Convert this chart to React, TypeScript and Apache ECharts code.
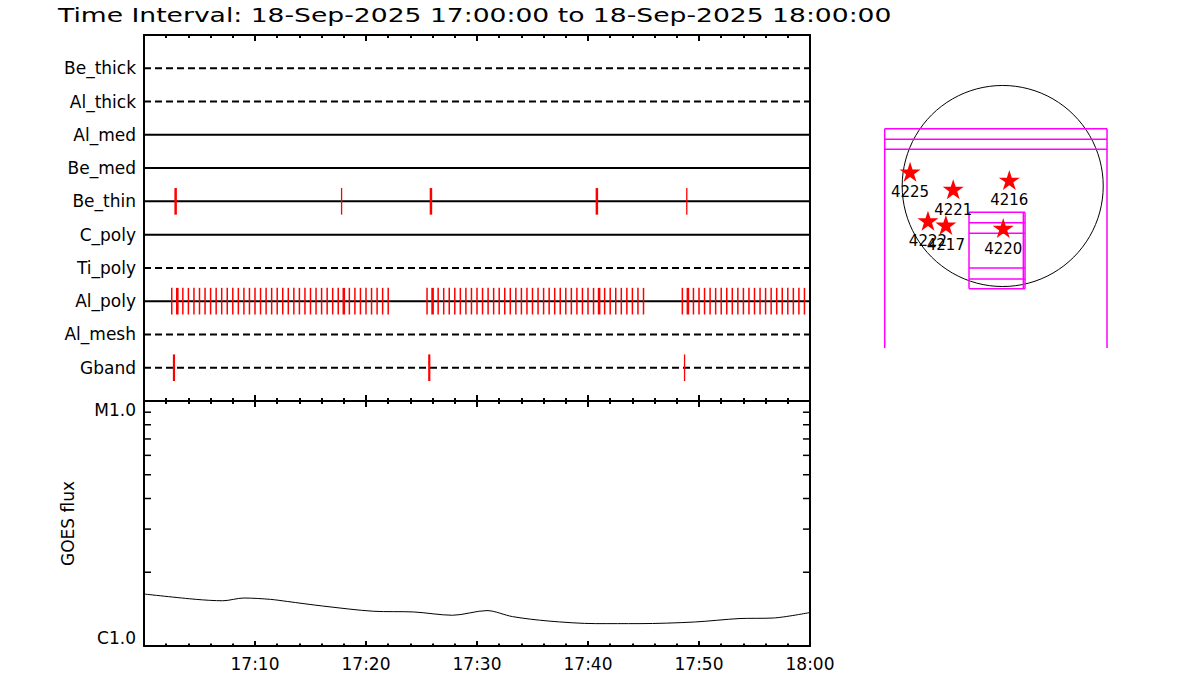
import React, { useEffect, useRef } from 'react';
import * as echarts from 'echarts';

// ---------- data ----------
const TITLE = 'Time Interval: 18-Sep-2025 17:00:00 to 18-Sep-2025 18:00:00';
const START_HOUR = 17;

const rowNames = ['Be_thick', 'Al_thick', 'Al_med', 'Be_med', 'Be_thin', 'C_poly', 'Ti_poly', 'Al_poly', 'Al_mesh', 'Gband'];
const rowDashed = [true, true, false, false, false, false, true, false, true, true];

// event times in minutes after 17:00
const beThinEvents = [2.85, 17.8, 25.85, 40.8, 48.9];
const beThinThick = [2.85, 25.85, 40.8];

const alPolyEvents = [
  2.5, 3.0, 3.5, 4.0, 4.5, 5.0, 5.5, 6.0, 6.5, 7.0, 7.5, 8.0, 8.5, 9.0, 9.5, 10.0, 10.5, 11.0, 11.5, 12.0,
  12.5, 13.0, 13.5, 14.0, 14.5, 15.0, 15.5, 16.0, 16.5, 17.0, 17.5, 18.0, 18.5, 19.0, 19.5, 20.0, 20.5, 21.0, 21.5, 22.0,
  25.5, 26.0, 26.5, 27.0, 27.5, 28.0, 28.5, 29.0, 29.5, 30.0, 30.5, 31.0, 31.5, 32.0, 32.5, 33.0, 33.5, 34.0, 34.5, 35.0,
  35.5, 36.0, 36.5, 37.0, 37.5, 38.0, 38.5, 39.0, 39.5, 40.0, 40.5, 41.0, 41.5, 42.0, 42.5, 43.0, 43.5, 44.0, 44.5, 45.0,
  48.5, 49.0, 49.5, 50.0, 50.5, 51.0, 51.5, 52.0, 52.5, 53.0, 53.5, 54.0, 54.5, 55.0, 55.5, 56.0, 56.5, 57.0, 57.5, 58.0,
  58.5, 59.0, 59.5,
];
const alPolyThick = [3.0, 18.0, 26.0, 41.0, 49.0];

const gbandEvents = [2.7, 25.7, 48.7];
const gbandThick = [2.7, 25.7];

// GOES 1-8 A flux (W/m^2)
const goesTimes = [0, 4.7, 7.1, 9.0, 11.4, 12.9, 16.1, 20.7, 24.3, 27.8, 30.9, 33.2, 36.4, 40.7, 44.6, 49.6, 53.6, 56.7, 60];
const goesFlux = [
  1.63e-6, 1.55e-6, 1.53e-6, 1.57e-6, 1.55e-6, 1.52e-6, 1.456e-6, 1.386e-6, 1.377e-6, 1.335e-6,
  1.395e-6, 1.318e-6, 1.265e-6, 1.234e-6, 1.234e-6, 1.253e-6, 1.294e-6, 1.301e-6, 1.37e-6,
];
const goesMinorTicks = [2e-6, 3e-6, 4e-6, 5e-6, 6e-6, 7e-6, 8e-6, 9e-6];
const goesClassLabels: Record<string, string> = { '-6': 'C1.0', '-5': 'M1.0' };

// solar disk panel (arcsec)
const SOLAR_R = 955;
const arNumbers = ['4225', '4221', '4216', '4222', '4217', '4220'];
const arX = [-880, -470, 63, -710, -540, 5];
const arY = [135, -30, 57, -330, -370, -400];
const fovX1 = [-1121, -1121, -1121, -1121, 991, -320, -320, -320, -320, -320, -320, -320, 212, 196];
const fovY1 = [545, 444, 349, 545, 545, -250, -349, -449, -779, -884, -976, -250, -250, -250];
const fovX2 = [991, 991, 991, -1121, 991, 212, 212, 212, 212, 212, 212, -320, 212, 196];
const fovY2 = [545, 444, 349, -1540, -1540, -250, -349, -449, -779, -884, -976, -976, -976, -976];

// ---------- helpers ----------
const FONT = 'DejaVu Sans';
const fmtTime = (v: number) => {
  if (v <= 0) return '';
  const h = START_HOUR + Math.floor(v / 60);
  const m = Math.round(v % 60);
  return `${h}:${m < 10 ? '0' + m : m}`;
};

const timeAxisBase = (gridIndex: number, position: 'top' | 'bottom', majorLen: number, minorLen: number, labels: boolean) => ({
  type: 'value',
  gridIndex,
  position,
  min: 0,
  max: 60,
  interval: 10,
  axisLine: { show: true, onZero: false, lineStyle: { color: '#000', width: 2 } },
  axisTick: { show: true, inside: true, length: majorLen, lineStyle: { color: '#000', width: 2 } },
  minorTick: { show: true, splitNumber: 5, length: minorLen, lineStyle: { color: '#000', width: 2 } },
  splitLine: { show: false },
  minorSplitLine: { show: false },
  axisLabel: labels
    ? { show: true, formatter: fmtTime, color: '#000', fontFamily: FONT, fontSize: 17, margin: 9, showMinLabel: true, showMaxLabel: true }
    : { show: false },
});

export default function App() {
  const ref = useRef<HTMLDivElement>(null);

  useEffect(() => {
    if (!ref.current) return;
    const chart = echarts.init(ref.current, undefined, { renderer: 'svg' });

    const tickItems: number[][] = [];
    beThinEvents.forEach((t) => tickItems.push([t, 5, beThinThick.includes(t) ? 2.5 : 1.3]));
    alPolyEvents.forEach((t) => tickItems.push([t, 8, alPolyThick.includes(t) ? 2.6 : 1.5]));
    gbandEvents.forEach((t) => tickItems.push([t, 10, gbandThick.includes(t) ? 2.2 : 1.3]));

    const rowSeries = rowNames.map((name, i) => ({
      name,
      type: 'line',
      xAxisIndex: 0,
      yAxisIndex: 0,
      data: [[0, i + 1], [60, i + 1]],
      symbol: 'none',
      silent: true,
      z: 2,
      lineStyle: { color: '#000', width: 2, type: rowDashed[i] ? [7, 4] : 'solid' },
    }));

    const option: any = {
      animation: false,
      backgroundColor: '#fff',
      graphic: [
        {
          type: 'text',
          x: 58,
          y: 5,
          scaleX: 1.33,
          style: { text: TITLE, fill: '#000', font: `20px "${FONT}"`, textVerticalAlign: 'top' },
        },
      ],
      grid: [
        { left: 144, top: 35, width: 666, height: 366 },
        { left: 144, top: 401, width: 666, height: 245 },
        { left: 852.7, top: 36, width: 300, height: 320 },
      ],
      xAxis: [
        timeAxisBase(0, 'bottom', 6, 3, false),
        timeAxisBase(0, 'top', 6, 3, false),
        timeAxisBase(1, 'top', 6, 3, false),
        timeAxisBase(1, 'bottom', 5, 2.5, true),
        { type: 'value', gridIndex: 2, min: -1425, max: 1425, show: false },
      ],
      yAxis: [
        {
          type: 'value',
          gridIndex: 0,
          min: 0,
          max: 11,
          interval: 1,
          inverse: true,
          axisLine: { show: true, onZero: false, lineStyle: { color: '#000', width: 2 } },
          axisTick: { show: false },
          splitLine: { show: false },
          axisLabel: {
            formatter: (v: number) => rowNames[v - 1] ?? '',
            color: '#000',
            fontFamily: FONT,
            fontSize: 17,
            margin: 8,
          },
        },
        {
          type: 'value',
          gridIndex: 0,
          position: 'right',
          min: 0,
          max: 11,
          inverse: true,
          axisLine: { show: true, onZero: false, lineStyle: { color: '#000', width: 2 } },
          axisTick: { show: false },
          axisLabel: { show: false },
          splitLine: { show: false },
        },
        {
          type: 'log',
          logBase: 10,
          gridIndex: 1,
          min: 1e-6,
          max: 1e-5,
          axisLine: { show: true, onZero: false, lineStyle: { color: '#000', width: 2 } },
          axisTick: { show: false },
          splitLine: { show: false },
          axisLabel: {
            formatter: (v: number) => goesClassLabels[String(Math.round(Math.log10(v)))] ?? '',
            color: '#000',
            fontFamily: FONT,
            fontSize: 17,
            margin: 8,
            verticalAlignMinLabel: 'bottom',
            verticalAlignMaxLabel: 'top',
          },
          name: 'GOES flux',
          nameLocation: 'middle',
          nameRotate: 90,
          nameGap: 68,
          nameTextStyle: { color: '#000', fontFamily: FONT, fontSize: 17 },
        },
        {
          type: 'log',
          logBase: 10,
          gridIndex: 1,
          position: 'right',
          min: 1e-6,
          max: 1e-5,
          axisLine: { show: true, onZero: false, lineStyle: { color: '#000', width: 2 } },
          axisTick: { show: false },
          axisLabel: { show: false },
          splitLine: { show: false },
        },
        { type: 'value', gridIndex: 2, min: -1615, max: 1425, show: false },
      ],
      series: [
        ...rowSeries,
        {
          type: 'custom',
          name: 'events',
          xAxisIndex: 0,
          yAxisIndex: 0,
          z: 5,
          silent: true,
          data: tickItems,
          renderItem: (_p: any, api: any) => {
            const t = api.value(0);
            const r = api.value(1);
            const a = api.coord([t, r - 0.4]);
            const b = api.coord([t, r + 0.4]);
            return {
              type: 'line',
              shape: { x1: a[0], y1: a[1], x2: b[0], y2: b[1] },
              style: { stroke: '#ff0000', lineWidth: api.value(2) },
            };
          },
        },
        {
          type: 'line',
          name: 'GOES',
          xAxisIndex: 3,
          yAxisIndex: 2,
          data: goesTimes.map((t, i) => [t, goesFlux[i]]),
          symbol: 'none',
          smooth: 0.3,
          silent: true,
          lineStyle: { color: '#000', width: 1 },
        },
        {
          type: 'custom',
          name: 'goesTicks',
          xAxisIndex: 3,
          yAxisIndex: 2,
          silent: true,
          data: goesMinorTicks.map((v) => [0, v]),
          renderItem: (_p: any, api: any) => {
            const v = api.value(1);
            const l = api.coord([0, v]);
            const r = api.coord([60, v]);
            return {
              type: 'group',
              children: [
                { type: 'line', shape: { x1: l[0], y1: l[1], x2: l[0] + 7, y2: l[1] }, style: { stroke: '#000', lineWidth: 1.5 } },
                { type: 'line', shape: { x1: r[0] - 7, y1: r[1], x2: r[0], y2: r[1] }, style: { stroke: '#000', lineWidth: 1.5 } },
              ],
            };
          },
        },
        {
          type: 'custom',
          name: 'disk',
          xAxisIndex: 4,
          yAxisIndex: 4,
          silent: true,
          data: [[0, 0, SOLAR_R]],
          renderItem: (_p: any, api: any) => {
            const c = api.coord([api.value(0), api.value(1)]);
            const r = api.size([api.value(2), 0])[0];
            return { type: 'circle', shape: { cx: c[0], cy: c[1], r }, style: { fill: 'none', stroke: '#000', lineWidth: 1 } };
          },
        },
        {
          type: 'custom',
          name: 'fov',
          xAxisIndex: 4,
          yAxisIndex: 4,
          silent: true,
          data: fovX1.map((x, i) => [x, fovY1[i], fovX2[i], fovY2[i]]),
          renderItem: (_p: any, api: any) => {
            const a = api.coord([api.value(0), api.value(1)]);
            const b = api.coord([api.value(2), api.value(3)]);
            return {
              type: 'line',
              shape: { x1: a[0], y1: a[1], x2: b[0], y2: b[1] },
              style: { stroke: '#ff00ff', lineWidth: 1.5 },
            };
          },
        },
        {
          type: 'scatter',
          name: 'AR',
          xAxisIndex: 4,
          yAxisIndex: 4,
          silent: true,
          z: 6,
          symbol: 'path://M50 0 L61.2 34.5 L97.6 34.5 L68.2 55.9 L79.4 90.5 L50 69.1 L20.6 90.5 L31.8 55.9 L2.4 34.5 L38.8 34.5 Z',
          symbolSize: 21,
          symbolKeepAspect: true,
          itemStyle: { color: '#ff0000', opacity: 1 },
          data: arNumbers.map((n, i) => [arX[i], arY[i], n]),
          label: {
            show: true,
            position: 'bottom',
            distance: 3,
            formatter: (p: any) => p.value[2],
            color: '#000',
            fontFamily: FONT,
            fontSize: 15,
          },
          labelLayout: { hideOverlap: false },
        },
      ],
    };

    chart.setOption(option);
    return () => chart.dispose();
  }, []);

  return <div ref={ref} style={{ position: 'fixed', left: 0, top: 0, width: 1200, height: 700 }} />;
}
